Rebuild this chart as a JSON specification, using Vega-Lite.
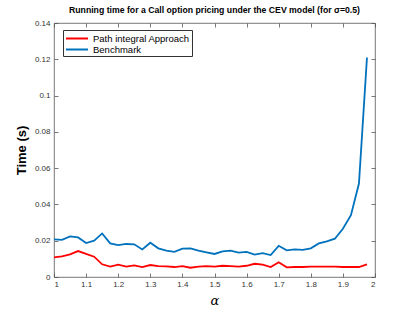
{
  "$schema": "https://vega.github.io/schema/vega-lite/v6.json",
  "autosize": "none",
  "width": 321,
  "height": 254,
  "padding": {"left": 54, "top": 23, "right": 40, "bottom": 35},
  "background": "white",
  "config": {
    "font": "Liberation Sans",
    "view": {"stroke": "#555555", "strokeWidth": 0.8},
    "axis": {"grid": false, "domain": false, "tickColor": "#555555", "tickSize": -4, "tickWidth": 0.8, "labelFontSize": 8, "labelColor": "#333333", "labelFont": "Liberation Sans"}
  },
  "title": {"text": "Running time for a Call option pricing under the CEV model (for σ=0.5)", "fontSize": 8.7, "fontWeight": "bold", "font": "Liberation Sans", "color": "#000000", "offset": 4},
  "data": {"values": [
    {"a":1.0,"t":0.0207,"s":"Benchmark"},{"a":1.025,"t":0.0205,"s":"Benchmark"},{"a":1.05,"t":0.0224,"s":"Benchmark"},{"a":1.075,"t":0.0218,"s":"Benchmark"},{"a":1.1,"t":0.0187,"s":"Benchmark"},{"a":1.125,"t":0.0200,"s":"Benchmark"},{"a":1.15,"t":0.0240,"s":"Benchmark"},{"a":1.175,"t":0.0185,"s":"Benchmark"},{"a":1.2,"t":0.0176,"s":"Benchmark"},{"a":1.225,"t":0.0182,"s":"Benchmark"},{"a":1.25,"t":0.0180,"s":"Benchmark"},{"a":1.275,"t":0.0152,"s":"Benchmark"},{"a":1.3,"t":0.0189,"s":"Benchmark"},{"a":1.325,"t":0.0158,"s":"Benchmark"},{"a":1.35,"t":0.0145,"s":"Benchmark"},{"a":1.375,"t":0.0139,"s":"Benchmark"},{"a":1.4,"t":0.0156,"s":"Benchmark"},{"a":1.425,"t":0.0158,"s":"Benchmark"},{"a":1.45,"t":0.0145,"s":"Benchmark"},{"a":1.475,"t":0.0136,"s":"Benchmark"},{"a":1.5,"t":0.0127,"s":"Benchmark"},{"a":1.525,"t":0.0141,"s":"Benchmark"},{"a":1.55,"t":0.0145,"s":"Benchmark"},{"a":1.575,"t":0.0134,"s":"Benchmark"},{"a":1.6,"t":0.0138,"s":"Benchmark"},{"a":1.625,"t":0.0123,"s":"Benchmark"},{"a":1.65,"t":0.0132,"s":"Benchmark"},{"a":1.675,"t":0.0121,"s":"Benchmark"},{"a":1.7,"t":0.0172,"s":"Benchmark"},{"a":1.725,"t":0.0147,"s":"Benchmark"},{"a":1.75,"t":0.0152,"s":"Benchmark"},{"a":1.775,"t":0.0149,"s":"Benchmark"},{"a":1.8,"t":0.0158,"s":"Benchmark"},{"a":1.825,"t":0.0185,"s":"Benchmark"},{"a":1.85,"t":0.0196,"s":"Benchmark"},{"a":1.875,"t":0.0211,"s":"Benchmark"},{"a":1.9,"t":0.0266,"s":"Benchmark"},{"a":1.925,"t":0.0341,"s":"Benchmark"},{"a":1.95,"t":0.0515,"s":"Benchmark"},{"a":1.975,"t":0.1210,"s":"Benchmark"},
    {"a":1.0,"t":0.0108,"s":"Path integral Approach"},{"a":1.025,"t":0.0114,"s":"Path integral Approach"},{"a":1.05,"t":0.0125,"s":"Path integral Approach"},{"a":1.075,"t":0.0143,"s":"Path integral Approach"},{"a":1.1,"t":0.0127,"s":"Path integral Approach"},{"a":1.125,"t":0.0112,"s":"Path integral Approach"},{"a":1.15,"t":0.0070,"s":"Path integral Approach"},{"a":1.175,"t":0.0057,"s":"Path integral Approach"},{"a":1.2,"t":0.0068,"s":"Path integral Approach"},{"a":1.225,"t":0.0057,"s":"Path integral Approach"},{"a":1.25,"t":0.0064,"s":"Path integral Approach"},{"a":1.275,"t":0.0055,"s":"Path integral Approach"},{"a":1.3,"t":0.0066,"s":"Path integral Approach"},{"a":1.325,"t":0.0060,"s":"Path integral Approach"},{"a":1.35,"t":0.0059,"s":"Path integral Approach"},{"a":1.375,"t":0.0055,"s":"Path integral Approach"},{"a":1.4,"t":0.0060,"s":"Path integral Approach"},{"a":1.425,"t":0.0051,"s":"Path integral Approach"},{"a":1.45,"t":0.0057,"s":"Path integral Approach"},{"a":1.475,"t":0.0060,"s":"Path integral Approach"},{"a":1.5,"t":0.0057,"s":"Path integral Approach"},{"a":1.525,"t":0.0062,"s":"Path integral Approach"},{"a":1.55,"t":0.0060,"s":"Path integral Approach"},{"a":1.575,"t":0.0057,"s":"Path integral Approach"},{"a":1.6,"t":0.0062,"s":"Path integral Approach"},{"a":1.625,"t":0.0073,"s":"Path integral Approach"},{"a":1.65,"t":0.0068,"s":"Path integral Approach"},{"a":1.675,"t":0.0055,"s":"Path integral Approach"},{"a":1.7,"t":0.0081,"s":"Path integral Approach"},{"a":1.725,"t":0.0053,"s":"Path integral Approach"},{"a":1.75,"t":0.0055,"s":"Path integral Approach"},{"a":1.775,"t":0.0055,"s":"Path integral Approach"},{"a":1.8,"t":0.0057,"s":"Path integral Approach"},{"a":1.825,"t":0.0057,"s":"Path integral Approach"},{"a":1.85,"t":0.0057,"s":"Path integral Approach"},{"a":1.875,"t":0.0057,"s":"Path integral Approach"},{"a":1.9,"t":0.0055,"s":"Path integral Approach"},{"a":1.925,"t":0.0055,"s":"Path integral Approach"},{"a":1.95,"t":0.0055,"s":"Path integral Approach"},{"a":1.975,"t":0.0070,"s":"Path integral Approach"}
  ]},
  "layer": [
    {
      "mark": {"type": "line", "strokeWidth": 1.8, "clip": true},
      "encoding": {
        "x": {"field": "a", "type": "quantitative", "scale": {"domain": [1, 2], "nice": false}, "axis": {"values": [1,1.1,1.2,1.3,1.4,1.5,1.6,1.7,1.8,1.9,2], "format": "~g", "labelPadding": 7, "title": "α", "titleFont": "DejaVu Serif", "titleFontStyle": "italic", "titleFontWeight": "normal", "titleFontSize": 13, "titlePadding": 6}},
        "y": {"field": "t", "type": "quantitative", "scale": {"domain": [0, 0.14], "nice": false}, "axis": {"values": [0,0.02,0.04,0.06,0.08,0.1,0.12,0.14], "format": "~g", "labelPadding": 8, "title": "Time (s)", "titleFontSize": 13, "titleFontWeight": "bold", "titlePadding": 6, "titleColor": "#000000"}},
        "color": {"field": "s", "type": "nominal", "sort": ["Path integral Approach", "Benchmark"], "scale": {"domain": ["Path integral Approach", "Benchmark"], "range": ["#FF0000", "#0072BD"]}, "legend": {"title": null, "orient": "none", "legendX": 9, "legendY": 7, "symbolType": "M-1,0H3", "symbolStrokeWidth": 2, "symbolSize": 121, "labelOffset": 15, "labelFontSize": 9.5, "labelColor": "#000000", "strokeColor": "#333333", "fillColor": "white", "padding": 2, "rowPadding": 0}}
      }
    },
    {
      "mark": {"type": "line", "opacity": 0},
      "encoding": {
        "x": {"field": "a", "type": "quantitative", "axis": {"orient": "top", "values": [1,1.1,1.2,1.3,1.4,1.5,1.6,1.7,1.8,1.9,2], "labels": false, "title": null}},
        "y": {"field": "t", "type": "quantitative", "axis": {"orient": "right", "values": [0,0.02,0.04,0.06,0.08,0.1,0.12,0.14], "labels": false, "title": null}}
      }
    }
  ],
  "resolve": {"axis": {"x": "independent", "y": "independent"}}
}
